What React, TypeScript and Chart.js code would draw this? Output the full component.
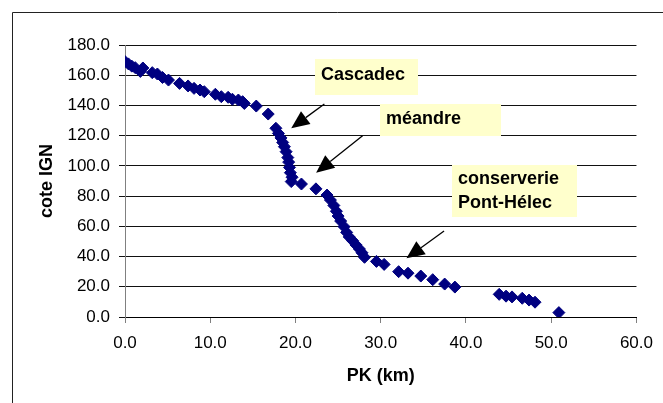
import React, { useEffect, useRef } from "react";
import { Chart, registerables } from "chart.js";

Chart.register(...registerables);

// PK (km) along the river and IGN elevation (m)
const pkKm = [
  0.0, 0.4, 0.8, 1.2, 1.8, 2.1, 3.2, 3.8, 4.4, 5.1, 6.4, 7.4, 8.1, 8.8, 9.3, 10.6, 11.3, 12.1, 12.6,
  13.3, 13.8, 14.0, 15.4, 16.8, 17.7, 18.0, 18.3, 18.5, 18.7, 18.9, 19.1, 19.2, 19.3, 19.4, 19.6,
  19.5, 20.7, 22.4, 23.7, 24.1, 24.5, 24.8, 25.0, 25.3, 25.7, 26.0, 26.3, 26.7, 27.1, 27.5, 27.8,
  28.1, 29.5, 30.4, 32.1, 33.2, 34.7, 36.1, 37.5, 38.7, 43.9, 44.7, 45.4, 46.6, 47.4, 48.1, 50.9,
];
const coteIGN = [
  169.0, 167.5, 166.0, 165.0, 162.5, 164.8, 161.7, 160.8, 158.5, 156.8, 154.6, 152.9, 151.3, 150.2,
  149.1, 147.4, 145.8, 145.4, 144.1, 143.6, 142.5, 141.3, 139.6, 134.3, 124.9, 121.5, 118.5, 115.5,
  112.7, 109.4, 105.5, 102.5, 99.0, 95.5, 92.5, 89.6, 88.0, 84.8, 80.7, 77.4, 73.8, 70.0, 66.8, 63.5,
  59.8, 56.0, 53.0, 50.5, 47.7, 45.0, 42.5, 39.5, 36.8, 34.8, 30.0, 29.0, 27.1, 24.7, 21.8, 19.8,
  15.0, 13.8, 13.3, 12.4, 11.2, 9.8, 2.9,
];

const xTitle = "PK (km)";
const yTitle = "cote IGN";

// Callout labels (anchored in data units)
const noteLines = [["Cascadec"], ["méandre"], ["conserverie", "Pont-Hélec"]];
const noteBoxAt = [
  [22.34, 170.5],
  [29.9, 141.0],
  [38.33, 100.6],
];
const arrowFrom = [
  [23.39, 140.96],
  [27.87, 120.0],
  [37.43, 56.9],
];
const arrowTo = [
  [19.5, 124.9],
  [22.42, 95.5],
  [33.02, 38.8],
];

const FONT = '"Liberation Sans", Arial, sans-serif';

const boxSizes = [
  [103, 36],
  [121, 32],
  [125, 52],
];
const firstBaseline = [21, 20, 18.5];

const calloutPlugin = {
  id: "callouts",
  beforeDraw(chart: any) {
    const ctx = chart.ctx;
    ctx.save();
    ctx.strokeStyle = "#222";
    ctx.lineWidth = 1;
    ctx.beginPath();
    ctx.moveTo(12.5, 403);
    ctx.lineTo(12.5, 12.5);
    ctx.lineTo(663, 12.5);
    ctx.stroke();
    ctx.restore();
  },
  afterDatasetsDraw(chart: any) {
    const ctx = chart.ctx;
    const xs = chart.scales.x;
    const ys = chart.scales.y;
    ctx.save();
    noteLines.forEach((lines, i) => {
      const bx = Math.round(xs.getPixelForValue(noteBoxAt[i][0]));
      const by = Math.round(ys.getPixelForValue(noteBoxAt[i][1]));
      const [w, h] = boxSizes[i];
      ctx.fillStyle = "#FFFFCC";
      ctx.fillRect(bx, by, w, h);
      ctx.fillStyle = "#000";
      ctx.font = "bold 18px " + FONT;
      ctx.textBaseline = "alphabetic";
      ctx.textAlign = "left";
      lines.forEach((t, j) => {
        ctx.fillText(t, bx + 6, by + firstBaseline[i] + j * 24);
      });
      // arrow
      const x1 = xs.getPixelForValue(arrowFrom[i][0]);
      const y1 = ys.getPixelForValue(arrowFrom[i][1]);
      const x2 = xs.getPixelForValue(arrowTo[i][0]);
      const y2 = ys.getPixelForValue(arrowTo[i][1]);
      const ang = Math.atan2(y2 - y1, x2 - x1);
      const L = 18;
      const HW = 8;
      const bxp = x2 - Math.cos(ang) * L;
      const byp = y2 - Math.sin(ang) * L;
      ctx.strokeStyle = "#000";
      ctx.lineWidth = 1.3;
      ctx.beginPath();
      ctx.moveTo(x1, y1);
      ctx.lineTo(bxp, byp);
      ctx.stroke();
      ctx.fillStyle = "#000";
      ctx.beginPath();
      ctx.moveTo(x2, y2);
      ctx.lineTo(bxp + Math.sin(ang) * HW, byp - Math.cos(ang) * HW);
      ctx.lineTo(bxp - Math.sin(ang) * HW, byp + Math.cos(ang) * HW);
      ctx.closePath();
      ctx.fill();
    });
    ctx.restore();
  },
};

export default function App() {
  const ref = useRef<HTMLCanvasElement | null>(null);
  useEffect(() => {
    if (!ref.current) return;
    const points = pkKm.map((x, i) => ({ x, y: coteIGN[i] }));
    const chart = new Chart(ref.current, {
      type: "scatter",
      data: {
        datasets: [
          {
            data: points,
            pointStyle: "rectRot",
            pointRadius: 6,
            pointBorderWidth: 1,
            backgroundColor: "#000080",
            borderColor: "#000080",
          },
        ],
      },
      options: {
        animation: false,
        responsive: false,
        devicePixelRatio: 1,
        layout: { padding: { left: 0, top: 45, right: 25, bottom: 0 } },
        plugins: { legend: { display: false }, tooltip: { enabled: false } },
        scales: {
          x: {
            type: "linear",
            min: 0,
            max: 60,
            afterFit(scale: any) {
              scale.height = 86;
            },
            ticks: {
              stepSize: 10,
              color: "#000",
              padding: 10,
              font: { family: FONT, size: 17 },
              callback: (v: any) => Number(v).toFixed(1),
            },
            grid: {
              drawOnChartArea: false,
              drawTicks: true,
              tickLength: 6,
              tickColor: "#808080",
              color: "#808080",
            },
            border: { display: true, color: "#000", width: 1 },
            title: {
              display: true,
              text: xTitle,
              color: "#000",
              font: { family: FONT, size: 18, weight: "bold" },
              padding: { top: 0, bottom: 16 },
            },
          },
          y: {
            type: "linear",
            min: 0,
            max: 180,
            afterFit(scale: any) {
              scale.width = 125;
            },
            ticks: {
              stepSize: 20,
              color: "#000",
              padding: 9,
              font: { family: FONT, size: 17 },
              callback: (v: any) => Number(v).toFixed(1),
            },
            grid: {
              drawOnChartArea: true,
              drawTicks: true,
              tickLength: 6,
              color: "#111",
              tickColor: "#111",
            },
            border: { display: true, color: "#808080", width: 1 },
            title: {
              display: true,
              text: yTitle,
              color: "#000",
              font: { family: FONT, size: 18, weight: "bold" },
              padding: { top: 36, bottom: 0 },
            },
          },
        },
      },
      plugins: [calloutPlugin],
    });
    return () => chart.destroy();
  }, []);
  return (
    <div style={{ position: "absolute", left: 0, top: 0, width: 663, height: 403, overflow: "hidden", background: "#fff" }}>
      <canvas ref={ref} width={663} height={403} style={{ display: "block", width: 663, height: 403 }} />
    </div>
  );
}
